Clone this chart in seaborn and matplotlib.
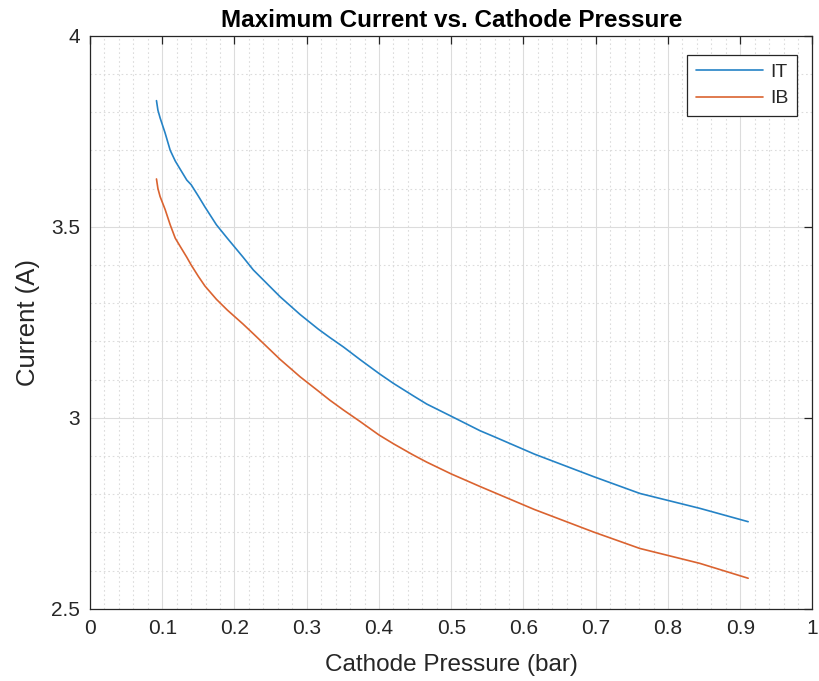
import matplotlib
matplotlib.use("Agg")
import matplotlib.pyplot as plt
from matplotlib.ticker import MultipleLocator
import seaborn as sns
import pandas as pd

# ---- data ----
pressure = [0.092, 0.094, 0.097, 0.104, 0.111, 0.118, 0.125, 0.134, 0.14, 0.15, 0.159,
            0.175, 0.19, 0.212, 0.226, 0.263, 0.291, 0.316, 0.332, 0.351, 0.374,
            0.4, 0.42, 0.447, 0.466, 0.5, 0.54, 0.56, 0.615, 0.697, 0.761, 0.844, 0.911]
current_it = [3.83, 3.805, 3.785, 3.745, 3.70, 3.672, 3.65, 3.622, 3.61, 3.58, 3.552,
              3.505, 3.47, 3.42, 3.387, 3.317, 3.27, 3.232, 3.21, 3.185, 3.152,
              3.116, 3.09, 3.058, 3.036, 3.004, 2.966, 2.95, 2.905, 2.846, 2.802, 2.763, 2.728]
current_ib = [3.625, 3.60, 3.579, 3.545, 3.505, 3.47, 3.448, 3.42, 3.40, 3.37, 3.345,
              3.31, 3.282, 3.245, 3.22, 3.153, 3.107, 3.07, 3.046, 3.02, 2.99,
              2.955, 2.932, 2.903, 2.884, 2.853, 2.82, 2.804, 2.76, 2.701, 2.658, 2.619, 2.58]
series_names = ["IT", "IB"]
x_ticks = [0, 0.1, 0.2, 0.3, 0.4, 0.5, 0.6, 0.7, 0.8, 0.9, 1]
y_ticks = [2.5, 3, 3.5, 4]

df = pd.DataFrame({
    "Cathode Pressure (bar)": pressure + pressure,
    "Current (A)": current_it + current_ib,
    "series": [series_names[0]] * len(pressure) + [series_names[1]] * len(pressure),
})

sns.set_style("white")
plt.rcParams["font.family"] = ["Liberation Sans", "DejaVu Sans"]

fig = plt.figure(figsize=(8.19, 6.81), dpi=100)
ax = fig.add_axes([0.1099, 0.106, 0.8821, 0.8416])

palette = {"IT": "#2583c6", "IB": "#da6330"}
sns.lineplot(data=df, x="Cathode Pressure (bar)", y="Current (A)", hue="series",
             palette=palette, linewidth=1.2, ax=ax, sort=False, estimator=None)

ax.set_xlim(0, 1)
ax.set_ylim(2.5, 4)
ax.set_xticks(x_ticks)
ax.set_xticklabels([f"{t:g}" for t in x_ticks])
ax.set_yticks(y_ticks)
ax.set_yticklabels([f"{t:g}" for t in y_ticks])
ax.xaxis.set_minor_locator(MultipleLocator(0.02))
ax.yaxis.set_minor_locator(MultipleLocator(0.1))

ax.grid(True, which="major", color="#dcdcdc", linewidth=0.8, linestyle="-")
ax.grid(True, which="minor", color="#dcdcdc", linewidth=0.8, linestyle=(0, (1.5, 2.5)))
ax.set_axisbelow(True)

for s in ax.spines.values():
    s.set_visible(True)
    s.set_color("#262626")
    s.set_linewidth(0.9)

ax.tick_params(which="major", direction="in", length=6, width=0.9, color="#262626",
               top=True, right=True, labelsize=15, labelcolor="#262626", pad=7)
ax.tick_params(which="minor", length=0, top=True, right=True)

ax.set_xlabel("Cathode Pressure (bar)", fontsize=17.5, color="#262626", labelpad=12)
ax.set_ylabel("Current (A)", fontsize=18.5, color="#262626", labelpad=8)
ax.set_title("Maximum Current vs. Cathode Pressure", fontsize=17.5, fontweight="bold",
             color="black", pad=6)

leg = ax.legend(loc="upper right", bbox_to_anchor=(0.9785, 0.967), fontsize=14,
                frameon=True, fancybox=False, edgecolor="#262626", handlelength=3.45,
                borderpad=0.45, labelspacing=0.45, handletextpad=0.35, borderaxespad=0)
leg.get_frame().set_linewidth(0.9)
leg.get_frame().set_alpha(1)

fig.savefig("out.png", dpi=100)
